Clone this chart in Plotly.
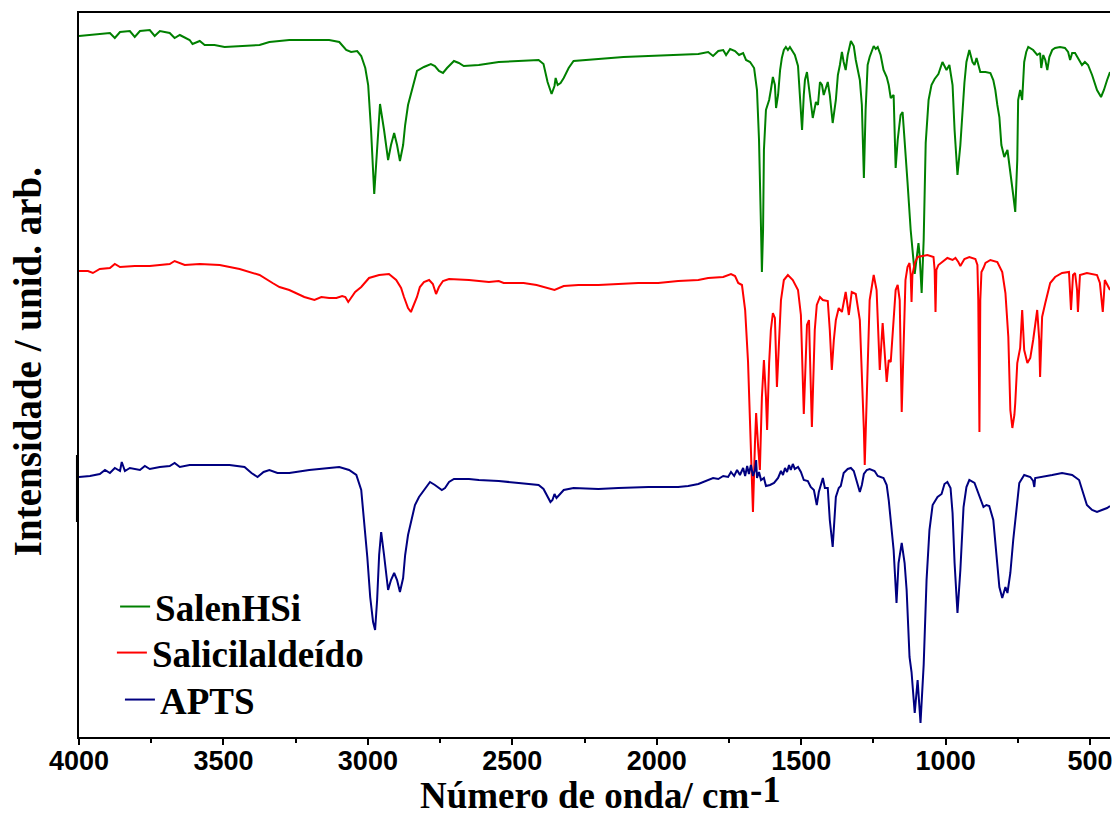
import plotly.graph_objects as go

# ---- data (wavenumber in cm-1, intensity in arbitrary units) ----
salen_wn = [4000, 3962, 3928, 3893, 3876, 3858, 3824, 3807, 3789, 3755, 3738, 3720, 3686, 3669, 3651, 3617, 3607, 3582, 3565, 3531,
            3496, 3444, 3375, 3341, 3272, 3203, 3134, 3099, 3075, 3058, 3037, 3023, 3009, 2999, 2989, 2978, 2968, 2958, 2944, 2930,
            2920, 2909, 2899, 2889, 2878, 2871, 2861, 2854, 2844, 2830, 2806, 2782, 2768, 2754, 2740, 2726, 2702, 2685, 2668, 2616,
            2547, 2478, 2409, 2392, 2378, 2364, 2354, 2350, 2343, 2333, 2322, 2305, 2288, 2202, 2115, 2029, 1943, 1856, 1822, 1805,
            1787, 1770, 1760, 1746, 1729, 1715, 1701, 1691, 1677, 1663, 1653, 1646, 1639, 1636, 1632, 1629, 1622, 1611, 1605, 1598,
            1591, 1587, 1580, 1573, 1567, 1560, 1553, 1546, 1539, 1529, 1522, 1511, 1504, 1497, 1491, 1487, 1480, 1470, 1460, 1449,
            1442, 1435, 1428, 1422, 1408, 1401, 1391, 1380, 1373, 1366, 1359, 1353, 1346, 1339, 1328, 1318, 1311, 1297, 1290, 1283,
            1277, 1270, 1263, 1249, 1242, 1235, 1225, 1215, 1204, 1197, 1190, 1180, 1173, 1166, 1163, 1156, 1149, 1142, 1132, 1121,
            1107, 1101, 1094, 1090, 1083, 1076, 1069, 1059, 1049, 1038, 1025, 1011, 997, 987, 976, 969, 959, 949, 942, 935,
            928, 918, 907, 900, 893, 880, 862, 845, 835, 828, 821, 814, 807, 797, 786, 776, 766, 759, 752, 749,
            742, 735, 728, 721, 714, 697, 683, 673, 669, 662, 655, 648, 641, 631, 621, 604, 587, 576, 569, 562,
            552, 542, 528, 518, 507, 493, 476, 462, 452, 441, 431]
salen_int = [701, 702, 703, 704, 699, 705, 706, 700, 706, 707, 701, 706, 704, 699, 702, 697, 693, 696, 692, 692,
             690, 691, 692, 695, 697, 697, 697, 695, 687, 685, 686, 681, 669, 652, 607, 543, 587, 633, 607, 577,
             592, 604, 592, 576, 592, 612, 632, 640, 652, 666, 670, 673, 671, 666, 664, 669, 676, 674, 671, 672,
             675, 676, 677, 673, 655, 643, 651, 659, 652, 654, 659, 669, 676, 678, 680, 681, 682, 683, 685, 681,
             686, 687, 682, 688, 686, 682, 684, 677, 675, 669, 647, 597, 507, 465, 507, 587, 627, 637, 647, 660,
             652, 629, 642, 667, 679, 687, 690, 687, 690, 685, 682, 671, 642, 607, 642, 657, 665, 642, 619, 635,
             632, 655, 652, 642, 655, 642, 614, 637, 662, 672, 685, 675, 667, 682, 696, 691, 677, 657, 632, 559,
             627, 672, 680, 691, 688, 690, 682, 667, 660, 652, 639, 642, 569, 597, 607, 622, 625, 599, 555, 507,
             463, 477, 494, 482, 444, 497, 594, 637, 652, 658, 663, 675, 667, 672, 652, 607, 562, 592, 627, 654,
             675, 687, 675, 672, 679, 665, 665, 664, 657, 647, 632, 620, 592, 580, 587, 567, 542, 525, 577, 637,
             647, 637, 675, 685, 690, 687, 682, 684, 669, 682, 677, 667, 680, 687, 689, 690, 689, 685, 677, 684,
             684, 679, 672, 675, 672, 662, 647, 640, 647, 657, 665]

salic_wn = [4000, 3969, 3952, 3928, 3893, 3876, 3858, 3807, 3755, 3686, 3669, 3634, 3582, 3513, 3444, 3375, 3330, 3306, 3272, 3220,
            3185, 3161, 3134, 3109, 3089, 3078, 3068, 3058, 3044, 3023, 2996, 2961, 2927, 2902, 2885, 2875, 2861, 2851, 2840, 2830,
            2820, 2806, 2788, 2775, 2764, 2754, 2740, 2719, 2650, 2581, 2547, 2530, 2502, 2461, 2416, 2381, 2354, 2322, 2271, 2202,
            2133, 2064, 1995, 1926, 1856, 1822, 1770, 1743, 1729, 1718, 1705, 1694, 1684, 1677, 1670, 1667, 1660, 1656, 1649, 1643,
            1636, 1629, 1622, 1618, 1611, 1605, 1598, 1591, 1584, 1577, 1570, 1560, 1546, 1529, 1511, 1501, 1491, 1480, 1473, 1463,
            1453, 1446, 1435, 1425, 1408, 1401, 1394, 1387, 1380, 1370, 1359, 1346, 1335, 1325, 1311, 1297, 1290, 1283, 1280, 1273,
            1270, 1263, 1249, 1239, 1228, 1218, 1204, 1197, 1190, 1180, 1173, 1166, 1159, 1152, 1145, 1139, 1132, 1125, 1121, 1118,
            1115, 1107, 1097, 1063, 1042, 1038, 1035, 1032, 1025, 1011, 994, 976, 966, 956, 949, 935, 918, 897, 890, 887,
            883, 880, 876, 869, 862, 845, 821, 804, 793, 783, 776, 769, 762, 759, 752, 742, 735, 728, 717, 707,
            697, 683, 676, 673, 669, 666, 655, 638, 621, 597, 573, 569, 566, 562, 559, 552, 545, 542, 538, 535,
            511, 476, 466, 459, 456, 452, 449, 431]
salic_int = [466, 466, 464, 468, 469, 473, 470, 471, 471, 473, 476, 472, 473, 472, 468, 462, 454, 450, 447, 440,
             437, 440, 439, 439, 441, 440, 435, 439, 445, 450, 459, 462, 463, 457, 449, 440, 429, 425, 432, 440,
             450, 455, 457, 453, 443, 450, 456, 458, 457, 455, 456, 454, 454, 454, 452, 449, 447, 451, 452, 452,
             453, 454, 454, 456, 457, 459, 460, 463, 461, 454, 452, 427, 375, 307, 247, 225, 294, 324, 290, 267,
             340, 377, 340, 307, 374, 407, 424, 419, 350, 397, 437, 457, 462, 457, 447, 422, 323, 412, 417, 310,
             407, 432, 440, 437, 436, 407, 367, 397, 417, 429, 425, 445, 422, 445, 443, 417, 367, 307, 272, 337,
             387, 437, 462, 447, 367, 414, 355, 377, 375, 417, 447, 452, 437, 325, 397, 457, 470, 474, 462, 435,
             462, 474, 480, 482, 480, 467, 425, 467, 472, 475, 479, 477, 479, 475, 471, 478, 480, 478, 472, 437,
             305, 437, 465, 469, 474, 477, 475, 465, 444, 400, 327, 309, 322, 334, 374, 389, 427, 387, 374, 379,
             397, 427, 397, 360, 397, 420, 434, 454, 460, 464, 465, 447, 427, 447, 462, 464, 447, 425, 447, 462,
             464, 462, 454, 437, 425, 442, 457, 447]

apts_wn = [4000, 3962, 3928, 3910, 3893, 3876, 3858, 3852, 3841, 3824, 3789, 3772, 3755, 3720, 3686, 3669, 3651, 3617, 3582, 3479,
           3427, 3403, 3382, 3361, 3341, 3313, 3272, 3203, 3134, 3099, 3065, 3040, 3023, 3013, 3002, 2992, 2982, 2975, 2968, 2961,
           2954, 2944, 2930, 2920, 2909, 2899, 2889, 2878, 2871, 2861, 2851, 2837, 2823, 2806, 2785, 2768, 2754, 2744, 2733, 2719,
           2702, 2650, 2616, 2547, 2478, 2409, 2392, 2378, 2368, 2361, 2354, 2347, 2336, 2322, 2288, 2202, 2133, 2029, 1926, 1891,
           1856, 1839, 1822, 1805, 1787, 1770, 1753, 1743, 1732, 1722, 1712, 1701, 1694, 1687, 1681, 1674, 1667, 1660, 1656, 1653,
           1646, 1639, 1629, 1622, 1608, 1594, 1580, 1570, 1563, 1556, 1549, 1542, 1536, 1529, 1522, 1511, 1501, 1491, 1477, 1467,
           1456, 1446, 1439, 1432, 1425, 1418, 1408, 1401, 1391, 1380, 1370, 1363, 1353, 1339, 1328, 1318, 1308, 1297, 1290, 1283,
           1273, 1263, 1246, 1235, 1215, 1204, 1197, 1190, 1180, 1170, 1163, 1152, 1142, 1135, 1125, 1118, 1107, 1097, 1087, 1076,
           1066, 1056, 1045, 1028, 1014, 1004, 994, 983, 976, 969, 959, 949, 938, 928, 918, 900, 883, 869, 859, 849,
           835, 824, 814, 804, 793, 786, 776, 766, 755, 745, 728, 707, 697, 693, 690, 666, 631, 597, 562, 538,
           528, 521, 511, 493, 476, 459, 441, 431]
apts_int = [260, 261, 263, 267, 264, 269, 266, 275, 266, 269, 267, 271, 268, 270, 271, 274, 270, 272, 272, 272,
            270, 264, 260, 265, 267, 264, 264, 267, 269, 270, 267, 262, 247, 217, 180, 140, 115, 107, 137, 182,
            205, 182, 147, 157, 164, 157, 145, 159, 182, 202, 215, 232, 240, 247, 255, 252, 249, 247, 249, 255,
            258, 258, 257, 256, 254, 252, 248, 240, 235, 237, 243, 239, 243, 247, 249, 248, 249, 250, 250, 251,
            253, 255, 257, 259, 258, 261, 260, 265, 261, 267, 262, 269, 261, 271, 263, 272, 261, 267, 277, 259,
            265, 257, 259, 251, 252, 254, 259, 266, 262, 269, 265, 272, 267, 273, 268, 270, 265, 257, 256, 250,
            247, 232, 245, 252, 259, 249, 249, 217, 190, 240, 249, 251, 264, 268, 269, 266, 257, 245, 252, 263,
            267, 268, 266, 261, 259, 252, 237, 217, 187, 134, 174, 194, 174, 147, 80, 65, 24, 57, 14, 72,
            157, 207, 232, 240, 243, 253, 255, 249, 224, 174, 124, 167, 230, 250, 257, 254, 240, 230, 232, 231,
            217, 185, 150, 139, 150, 144, 164, 197, 230, 254, 262, 260, 256, 250, 259, 260, 262, 264, 262, 257,
            247, 240, 232, 227, 225, 227, 229, 231]

series = [
    ("SalenHSi", salen_wn, salen_int, "#008000", "legend"),
    ("Salicilaldeído", salic_wn, salic_int, "#ff0000", "legend2"),
    ("APTS", apts_wn, apts_int, "#000080", "legend3"),
]

fig = go.Figure()
for name, wn, inten, color, lg in series:
    fig.add_trace(go.Scatter(x=wn, y=inten, mode="lines", name=name, legend=lg,
                             line=dict(color=color, width=2)))

serif = "Liberation Serif, Times New Roman, serif"
sans = "Liberation Sans, Arial, sans-serif"

legend_font = dict(family=serif, size=37, color="black", weight="bold")


def legend_box(x, y):
    return dict(x=x, y=y, xanchor="left", yanchor="middle",
                bgcolor="rgba(0,0,0,0)", font=legend_font,
                itemwidth=30, borderwidth=0)


fig.update_layout(
    width=1113, height=814,
    margin=dict(l=79, r=0, t=13, b=77),
    paper_bgcolor="white", plot_bgcolor="white",
    showlegend=True,
    legend=legend_box(0.035, 0.1796),
    legend2=legend_box(0.0319, 0.116),
    legend3=legend_box(0.0397, 0.0511),
    xaxis=dict(range=[4000, 431], showgrid=False, zeroline=False,
               showline=True, linecolor="black", linewidth=2, mirror=True,
               ticks="outside", ticklen=6, tickwidth=1.5, tickcolor="black",
               tick0=0, dtick=500, ticklabeloverflow="allow", ticklabelstandoff=-7,
               minor=dict(dtick=250, ticks="outside", ticklen=4, tickcolor="black", tickwidth=1.5),
               tickfont=dict(family=sans, size=27, color="black", weight="bold")),
    yaxis=dict(range=[0, 724], showgrid=False, zeroline=False,
               showline=True, linecolor="black", linewidth=2, mirror=False,
               showticklabels=False, ticks=""),
    annotations=[
        dict(text="<b>Número de onda/ cm</b>", x=0.4905, y=-0.081, xref="paper", yref="paper",
             xanchor="center", yanchor="middle", showarrow=False,
             font=dict(family=serif, size=37, color="black")),
        dict(text="<b>-1</b>", x=0.6663, y=-0.073, xref="paper", yref="paper",
             xanchor="center", yanchor="middle", showarrow=False,
             font=dict(family=serif, size=37, color="black")),
        dict(text="<b>Intensidade / unid. arb.</b>", x=-0.0493, y=0.518, xref="paper", yref="paper",
             xanchor="center", yanchor="middle", showarrow=False, textangle=-90,
             font=dict(family=serif, size=39, color="black")),
    ],
    shapes=[
        dict(type="line", xref="paper", yref="paper", x0=-0.0015, x1=-0.0015,
             y0=(737 - 522) / 724, y1=(737 - 455) / 724, line=dict(color="black", width=3)),
    ],
)

fig.write_html("out.html")
